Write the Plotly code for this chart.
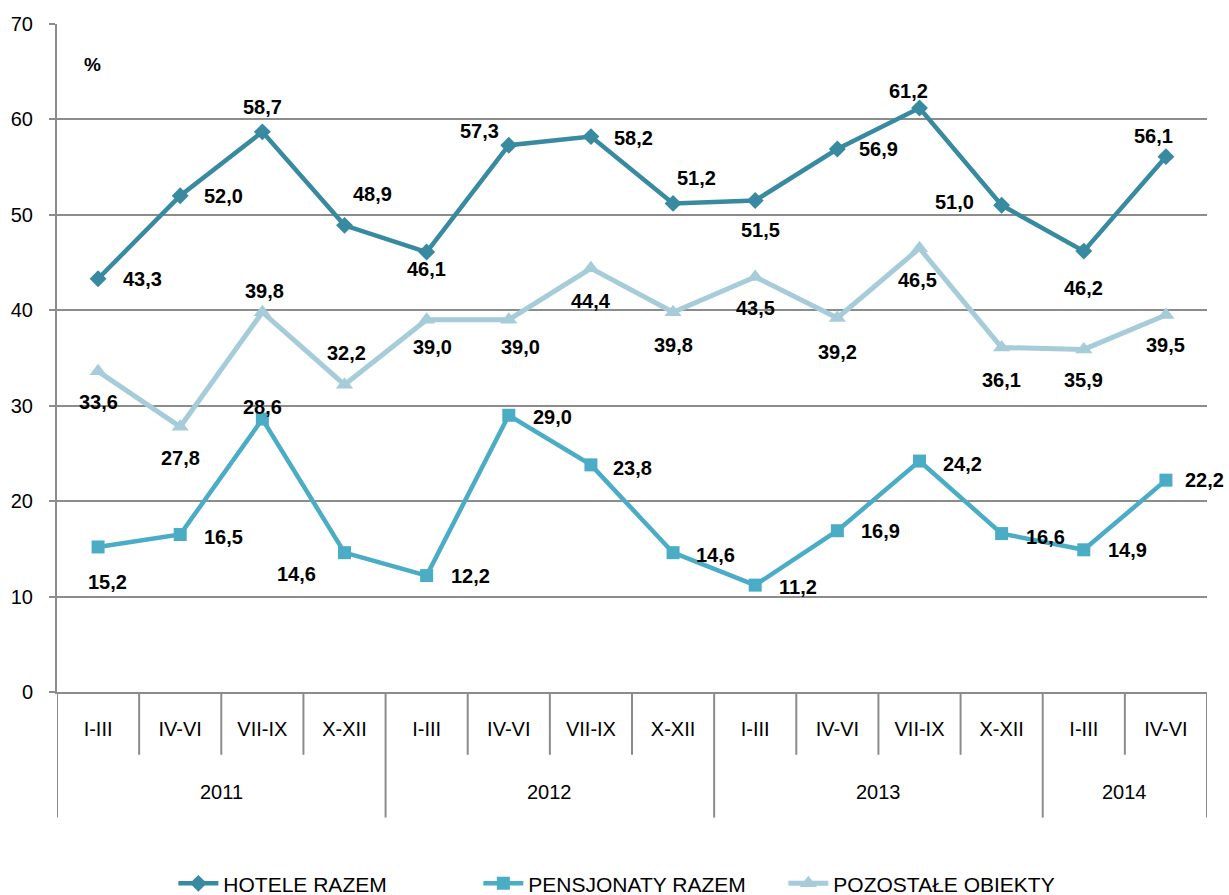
import plotly.graph_objects as go

quarters = ["I-III", "IV-VI", "VII-IX", "X-XII",
            "I-III", "IV-VI", "VII-IX", "X-XII",
            "I-III", "IV-VI", "VII-IX", "X-XII",
            "I-III", "IV-VI"]
years = ["2011", "2012", "2013", "2014"]
year_counts = [4, 4, 4, 2]

hotele = [43.3, 52.0, 58.7, 48.9, 46.1, 57.3, 58.2, 51.2, 51.5, 56.9, 61.2, 51.0, 46.2, 56.1]
pensjonaty = [15.2, 16.5, 28.6, 14.6, 12.2, 29.0, 23.8, 14.6, 11.2, 16.9, 24.2, 16.6, 14.9, 22.2]
pozostale = [33.6, 27.8, 39.8, 32.2, 39.0, 39.0, 44.4, 39.8, 43.5, 39.2, 46.5, 36.1, 35.9, 39.5]

names = ["HOTELE RAZEM", "PENSJONATY RAZEM", "POZOSTAŁE OBIEKTY"]

# label offsets in pixels (dx right, dy down)
off_hot = [(44, 0), (43, 0), (0, -25), (28, -31), (0, 17), (-29, -14), (43, 1),
           (23, -25), (5, 29), (41, 0), (-11, -17), (-47, -3), (0, 37), (-12, -21)]
off_pen = [(9, 35), (43, 2), (0, -12), (-48, 21), (44, 0), (44, 2), (42, 3),
           (42, 2), (43, 2), (43, 0), (43, 3), (44, 3), (44, 0), (39, 0)]
off_poz = [(0, 31), (0, 31), (2, -21), (2, -32), (6, 27), (12, 27), (0, 33),
           (0, 33), (0, 31), (0, 34), (-2, 32), (0, 32), (0, 31), (0, 30)]

C_HOT = "#378A9F"
C_PEN = "#4BACC6"
C_POZ = "#A5CCD8"
GRID = "#8C8C8C"
FONT = "Arial, Liberation Sans, sans-serif"

x = list(range(len(quarters)))

fig = go.Figure()
fig.add_trace(go.Scatter(x=x, y=hotele, name=names[0], mode="lines+markers",
                         line=dict(color=C_HOT, width=4.5),
                         marker=dict(symbol="diamond", size=13, color=C_HOT)))
fig.add_trace(go.Scatter(x=x, y=pensjonaty, name=names[1], mode="lines+markers",
                         line=dict(color=C_PEN, width=4.5),
                         marker=dict(symbol="square", size=13, color=C_PEN)))
fig.add_trace(go.Scatter(x=x, y=pozostale, name=names[2], mode="lines+markers",
                         line=dict(color=C_POZ, width=5),
                         marker=dict(symbol="triangle-up", size=15, color=C_POZ)))

annotations = []
for vals, offs in [(hotele, off_hot), (pensjonaty, off_pen), (pozostale, off_poz)]:
    for i, v in enumerate(vals):
        dx, dy = offs[i]
        annotations.append(dict(x=i, y=v, xref="x", yref="y",
                                text=f"<b>{v:.1f}".replace(".", ",") + "</b>",
                                showarrow=False, xshift=dx, yshift=-dy,
                                xanchor="center", yanchor="middle",
                                font=dict(family=FONT, size=20, color="#000")))

annotations.append(dict(x=0.031, y=0.939, xref="paper", yref="paper",
                        text="<b>%</b>", showarrow=False,
                        xanchor="center", yanchor="middle",
                        font=dict(family=FONT, size=19, color="#000")))

# year labels and category separators
shapes = []
Q_BOTTOM = -0.094
Y_BOTTOM = -0.188
start = 0
for yr, n in zip(years, year_counts):
    center = start + (n - 1) / 2
    annotations.append(dict(x=center, y=-0.149, xref="x", yref="paper",
                            text=yr, showarrow=False, xanchor="center", yanchor="middle",
                            font=dict(family=FONT, size=20, color="#000")))
    start += n

boundaries_year = [-0.5]
s = -0.5
for n in year_counts:
    s += n
    boundaries_year.append(s)
for b in range(len(quarters) + 1):
    xb = b - 0.5
    bottom = Y_BOTTOM if xb in boundaries_year else Q_BOTTOM
    shapes.append(dict(type="line", xref="x", yref="paper", x0=xb, x1=xb,
                       y0=0, y1=bottom, line=dict(color=GRID, width=2)))

fig.update_layout(
    width=1229, height=895,
    margin=dict(l=57, r=22, t=24, b=203, autoexpand=False),
    paper_bgcolor="white", plot_bgcolor="white",
    showlegend=True,
    legend=dict(orientation="h", x=0.499, xanchor="center", y=-0.287, yanchor="middle",
                font=dict(family=FONT, size=21, color="#000"),
                entrywidth=250, itemwidth=40),
    xaxis=dict(range=[-0.5, len(quarters) - 0.5], tickmode="array", tickvals=x,
               ticktext=quarters, showgrid=False, zeroline=False, automargin=False,
               showline=True, linecolor=GRID, linewidth=2, ticks="",
               ticklabelstandoff=18,
               tickfont=dict(family=FONT, size=20, color="#000"), fixedrange=True),
    yaxis=dict(range=[0, 70], dtick=10, showgrid=True, gridcolor=GRID, gridwidth=1.5,
               zeroline=False, showline=True, linecolor=GRID, linewidth=2, automargin=False,
               ticks="outside", ticklen=6, tickcolor=GRID, tickwidth=1.5,
               ticklabelstandoff=12,
               tickfont=dict(family=FONT, size=20, color="#000"), fixedrange=True),
    annotations=annotations,
    shapes=shapes,
    font=dict(family=FONT),
)

fig.write_html("out.html", config={"displayModeBar": False},
               post_script="document.body.style.margin='0';")
